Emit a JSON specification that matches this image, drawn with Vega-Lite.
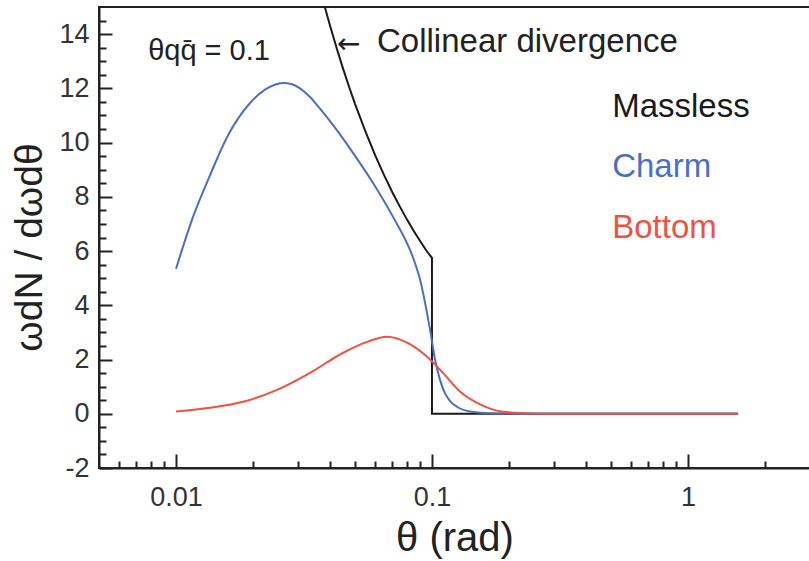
{
  "$schema": "https://vega.github.io/schema/vega-lite/v6.json",
  "width": 711,
  "height": 461,
  "autosize": {"type": "none"},
  "padding": {"left": 99, "top": 7, "right": 0, "bottom": 93},
  "background": "white",
  "config": {
    "view": {"stroke": "#222", "strokeWidth": 2},
    "font": "Liberation Sans"
  },
  "datasets": {
    "massless": [
      {"theta": 0.01, "value": 57.2, "i": 1},
      {"theta": 0.015, "value": 38.13, "i": 2},
      {"theta": 0.02, "value": 28.6, "i": 3},
      {"theta": 0.025, "value": 22.88, "i": 4},
      {"theta": 0.03, "value": 19.07, "i": 5},
      {"theta": 0.035, "value": 16.34, "i": 6},
      {"theta": 0.0375, "value": 15.25, "i": 7},
      {"theta": 0.04, "value": 14.3, "i": 8},
      {"theta": 0.0425, "value": 13.46, "i": 9},
      {"theta": 0.045, "value": 12.71, "i": 10},
      {"theta": 0.0475, "value": 12.04, "i": 11},
      {"theta": 0.05, "value": 11.44, "i": 12},
      {"theta": 0.055, "value": 10.4, "i": 13},
      {"theta": 0.06, "value": 9.53, "i": 14},
      {"theta": 0.065, "value": 8.8, "i": 15},
      {"theta": 0.07, "value": 8.17, "i": 16},
      {"theta": 0.075, "value": 7.63, "i": 17},
      {"theta": 0.08, "value": 7.15, "i": 18},
      {"theta": 0.085, "value": 6.73, "i": 19},
      {"theta": 0.09, "value": 6.36, "i": 20},
      {"theta": 0.095, "value": 6.02, "i": 21},
      {"theta": 0.1, "value": 5.75, "i": 22},
      {"theta": 0.1, "value": 0, "i": 23},
      {"theta": 1.5708, "value": 0, "i": 24}
    ],
    "massive": [
      {"series": "Charm", "theta": 0.01, "value": 5.35},
      {"series": "Charm", "theta": 0.01165, "value": 7.26},
      {"series": "Charm", "theta": 0.01358, "value": 8.8},
      {"series": "Charm", "theta": 0.01582, "value": 10.2},
      {"series": "Charm", "theta": 0.01946, "value": 11.46},
      {"series": "Charm", "theta": 0.02227, "value": 11.95},
      {"series": "Charm", "theta": 0.02618, "value": 12.2},
      {"series": "Charm", "theta": 0.02839, "value": 12.15},
      {"series": "Charm", "theta": 0.03051, "value": 12.0},
      {"series": "Charm", "theta": 0.03338, "value": 11.68},
      {"series": "Charm", "theta": 0.03652, "value": 11.25},
      {"series": "Charm", "theta": 0.04257, "value": 10.45},
      {"series": "Charm", "theta": 0.04785, "value": 9.78},
      {"series": "Charm", "theta": 0.05885, "value": 8.51},
      {"series": "Charm", "theta": 0.07046, "value": 7.26},
      {"series": "Charm", "theta": 0.08208, "value": 6.04},
      {"series": "Charm", "theta": 0.08588, "value": 5.55},
      {"series": "Charm", "theta": 0.08982, "value": 4.95},
      {"series": "Charm", "theta": 0.09394, "value": 4.1},
      {"series": "Charm", "theta": 0.09829, "value": 3.1},
      {"series": "Charm", "theta": 0.1028, "value": 2.0},
      {"series": "Charm", "theta": 0.1075, "value": 1.25},
      {"series": "Charm", "theta": 0.1125, "value": 0.75},
      {"series": "Charm", "theta": 0.1177, "value": 0.47},
      {"series": "Charm", "theta": 0.1253, "value": 0.26},
      {"series": "Charm", "theta": 0.1409, "value": 0.08},
      {"series": "Charm", "theta": 0.1541, "value": 0.04},
      {"series": "Charm", "theta": 0.19, "value": 0.01},
      {"series": "Charm", "theta": 0.25, "value": 0},
      {"series": "Charm", "theta": 1.5708, "value": 0},
      {"series": "Bottom", "theta": 0.01, "value": 0.08},
      {"series": "Bottom", "theta": 0.0136, "value": 0.22},
      {"series": "Bottom", "theta": 0.0183, "value": 0.44},
      {"series": "Bottom", "theta": 0.0248, "value": 0.88},
      {"series": "Bottom", "theta": 0.0334, "value": 1.51},
      {"series": "Bottom", "theta": 0.045, "value": 2.25},
      {"series": "Bottom", "theta": 0.0558, "value": 2.65},
      {"series": "Bottom", "theta": 0.0668, "value": 2.84},
      {"series": "Bottom", "theta": 0.08, "value": 2.62},
      {"series": "Bottom", "theta": 0.0957, "value": 2.1},
      {"series": "Bottom", "theta": 0.1106, "value": 1.5},
      {"series": "Bottom", "theta": 0.129, "value": 0.81},
      {"series": "Bottom", "theta": 0.15, "value": 0.4},
      {"series": "Bottom", "theta": 0.17, "value": 0.18},
      {"series": "Bottom", "theta": 0.19, "value": 0.07},
      {"series": "Bottom", "theta": 0.242, "value": 0.01},
      {"series": "Bottom", "theta": 0.3, "value": 0},
      {"series": "Bottom", "theta": 1.5708, "value": 0}
    ],
    "notes": [
      {"series": "Note", "theta": 0.00778, "value": 13.05, "label": "θqq̄ = 0.1", "size": 29},
      {"series": "Note", "theta": 0.061, "value": 13.34, "label": "Collinear divergence", "size": 33},
      {"series": "Massless", "theta": 0.506, "value": 10.94, "label": "Massless", "size": 33},
      {"series": "Charm", "theta": 0.506, "value": 8.73, "label": "Charm", "size": 33},
      {"series": "Bottom", "theta": 0.506, "value": 6.48, "label": "Bottom", "size": 33}
    ],
    "arrow": [
      {"series": "Note", "theta": 0.0426, "value": 13.3, "label": "←"}
    ]
  },
  "resolve": {"axis": {"x": "independent", "y": "independent"}},
  "layer": [
    {
      "data": {"name": "massless"},
      "mark": {"type": "line", "strokeWidth": 2, "clip": true, "color": "#1a1a1a"},
      "encoding": {
        "x": {
          "field": "theta", "type": "quantitative",
          "scale": {"type": "log", "domain": [0.005, 3], "nice": false},
          "axis": {
            "orient": "bottom", "values": [0.01, 0.1, 1], "format": "~g",
            "tickSize": -14, "tickWidth": 2, "tickColor": "#222",
            "domainColor": "#222", "domainWidth": 2, "grid": false,
            "labelFontSize": 27, "labelColor": "#333", "labelPadding": 30,
            "labelFlush": false, "labelOverlap": false,
            "title": "θ (rad)", "titleFontSize": 40, "titleFontWeight": "normal",
            "titleColor": "#222", "titleBaseline": "alphabetic", "titleY": 82
          }
        },
        "y": {
          "field": "value", "type": "quantitative",
          "scale": {"domain": [-2, 15], "nice": false, "zero": false},
          "axis": {
            "orient": "left", "values": [-2, 0, 2, 4, 6, 8, 10, 12, 14],
            "labelExpr": "'' + datum.value",
            "tickSize": -13, "tickWidth": 2, "tickColor": "#222",
            "domainColor": "#222", "domainWidth": 2, "grid": false,
            "labelFontSize": 27, "labelColor": "#333", "labelPadding": 23,
            "labelFlush": false, "labelOverlap": false,
            "title": "ωdN / dωdθ", "titleFontSize": 39, "titleFontWeight": "normal",
            "titleColor": "#222", "titleAngle": 270, "titleBaseline": "alphabetic",
            "titleAlign": "center", "titleX": -58, "titleY": 240
          }
        },
        "order": {"field": "i", "type": "quantitative"}
      }
    },
    {
      "data": {"name": "massive"},
      "mark": {"type": "line", "strokeWidth": 2, "clip": true, "interpolate": "monotone"},
      "encoding": {
        "x": {
          "field": "theta", "type": "quantitative",
          "scale": {"type": "log", "domain": [0.005, 3], "nice": false},
          "axis": {
            "orient": "bottom",
            "values": [0.006, 0.007, 0.008, 0.009, 0.02, 0.03, 0.04, 0.05, 0.06, 0.07, 0.08, 0.09, 0.2, 0.3, 0.4, 0.5, 0.6, 0.7, 0.8, 0.9, 2, 3],
            "tickSize": -7, "tickWidth": 2, "tickColor": "#222",
            "domain": false, "labels": false, "grid": false, "title": null
          }
        },
        "y": {
          "field": "value", "type": "quantitative",
          "scale": {"domain": [-2, 15], "nice": false, "zero": false},
          "axis": {
            "orient": "left",
            "values": [-1.5, -1, -0.5, 0.5, 1, 1.5, 2.5, 3, 3.5, 4.5, 5, 5.5, 6.5, 7, 7.5, 8.5, 9, 9.5, 10.5, 11, 11.5, 12.5, 13, 13.5, 14.5],
            "tickSize": -7, "tickWidth": 2, "tickColor": "#222",
            "domain": false, "labels": false, "grid": false, "title": null
          }
        },
        "color": {
          "field": "series", "type": "nominal",
          "scale": {"domain": ["Massless", "Charm", "Bottom", "Note"], "range": ["#1a1a1a", "#4a6fc6", "#f2513f", "#222222"]},
          "legend": null
        }
      }
    },
    {
      "data": {"name": "notes"},
      "mark": {"type": "text", "align": "left", "baseline": "alphabetic", "font": "Liberation Sans"},
      "encoding": {
        "x": {"field": "theta", "type": "quantitative", "scale": {"type": "log", "domain": [0.005, 3], "nice": false}, "axis": null},
        "y": {"field": "value", "type": "quantitative", "scale": {"domain": [-2, 15], "nice": false, "zero": false}, "axis": null},
        "text": {"field": "label"},
        "size": {"field": "size", "type": "quantitative", "scale": null},
        "color": {
          "field": "series", "type": "nominal",
          "scale": {"domain": ["Massless", "Charm", "Bottom", "Note"], "range": ["#1a1a1a", "#4a6fc6", "#f2513f", "#222222"]},
          "legend": null
        }
      }
    },
    {
      "data": {"name": "arrow"},
      "mark": {"type": "text", "align": "left", "baseline": "alphabetic", "font": "DejaVu Sans", "fontSize": 28, "color": "#222222"},
      "encoding": {
        "x": {"field": "theta", "type": "quantitative", "scale": {"type": "log", "domain": [0.005, 3], "nice": false}, "axis": null},
        "y": {"field": "value", "type": "quantitative", "scale": {"domain": [-2, 15], "nice": false, "zero": false}, "axis": null},
        "text": {"field": "label"}
      }
    }
  ]
}
